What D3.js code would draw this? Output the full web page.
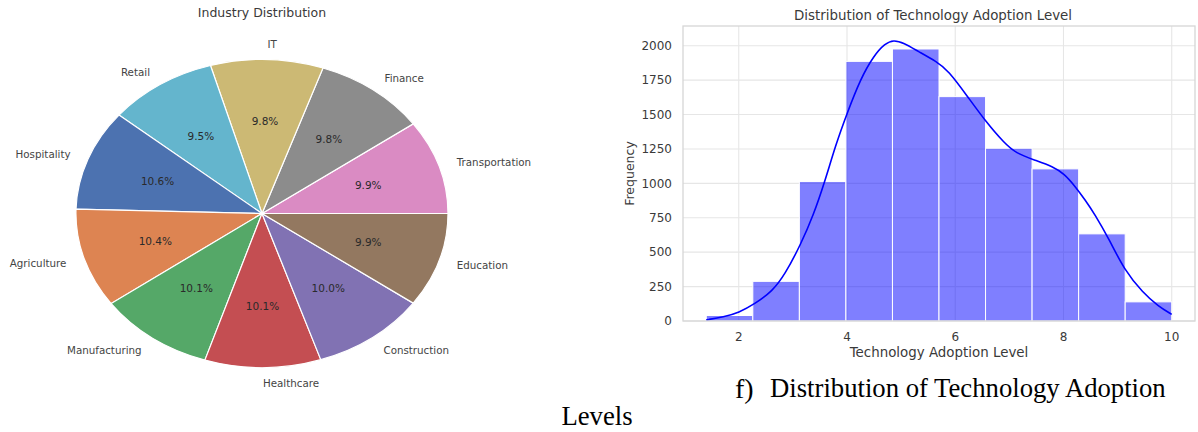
<!DOCTYPE html>
<html>
<head>
<meta charset="utf-8">
<script src="https://cdn.jsdelivr.net/npm/d3@7"></script>
<style>
  html, body { margin: 0; padding: 0; background: #fff; }
  svg { display: block; }
</style>
</head>
<body>
<svg id="chart" width="1198" height="432"></svg>
<script>
// ---------- Pie data (drawn counter-clockwise from 3 o'clock) ----------
const categories = ["Transportation","Finance","IT","Retail","Hospitality","Agriculture","Manufacturing","Healthcare","Construction","Education"];
const shares = [9.9, 9.8, 9.8, 9.5, 10.6, 10.4, 10.1, 10.1, 10.0, 9.9];
const pieColors = ["#DA8BC3","#8C8C8C","#CCB974","#64B5CD","#4C72B0","#DD8452","#55A868","#C44E52","#8172B3","#937860"];

// ---------- Histogram data ----------
const binEdges = [1.4, 2.26, 3.12, 3.98, 4.84, 5.70, 6.56, 7.42, 8.28, 9.14, 10.0];
const binCounts = [40, 288, 1013, 1886, 1976, 1630, 1255, 1105, 633, 139];
const kdeX = [1.4, 1.72, 2.0, 2.3, 2.62, 2.85, 3.15, 3.38, 3.58, 3.8, 4.0, 4.25, 4.5, 4.7, 4.86, 5.05, 5.3, 5.66, 5.87, 6.22, 6.56, 6.91, 7.12, 7.46, 7.81, 8.01, 8.22, 8.4, 8.57, 8.85, 9.12, 9.47, 9.75, 10.0];
const kdeY = [8, 29, 60, 125, 216, 335, 560, 770, 1000, 1290, 1507, 1760, 1930, 2015, 2043, 2020, 1962, 1883, 1820, 1635, 1450, 1291, 1220, 1170, 1121, 1070, 976, 879, 781, 589, 373, 204, 108, 48];
const xTicks = [2, 4, 6, 8, 10];
const yTicks = [0, 250, 500, 750, 1000, 1250, 1500, 1750, 2000];

const svg = d3.select("#chart");
const textCol = "#3a3a3a";

// ================= PIE =================
const cx = 262, cy = 213.5, rx = 186, ry = 154;
const pie = d3.pie().sort(null).value(d => d)
  .startAngle(Math.PI / 2).endAngle(Math.PI / 2 - 2 * Math.PI);
const arcs = pie(shares);
const arcGen = d3.arc().innerRadius(0).outerRadius(1);

svg.append("text")
  .attr("x", cx).attr("y", 17)
  .attr("text-anchor", "middle")
  .attr("font-family", "DejaVu Sans")
  .attr("font-size", 12.5)
  .attr("fill", textCol)
  .text("Industry Distribution");

const pieG = svg.append("g").attr("transform", `translate(${cx},${cy}) scale(${rx},${ry})`);
pieG.selectAll("path").data(arcs).join("path")
  .attr("d", arcGen)
  .attr("fill", (d, i) => pieColors[i])
  .attr("stroke", "#ffffff")
  .attr("stroke-width", 1.2)
  .attr("vector-effect", "non-scaling-stroke");

arcs.forEach((a, i) => {
  const mid = (a.startAngle + a.endAngle) / 2;
  const sx = Math.sin(mid), sy = -Math.cos(mid);
  svg.append("text")
    .attr("x", cx + 1.1 * rx * sx)
    .attr("y", cy + 1.1 * ry * sy)
    .attr("text-anchor", sx >= 0 ? "start" : "end")
    .attr("dominant-baseline", "central")
    .attr("font-family", "DejaVu Sans")
    .attr("font-size", 10.3)
    .attr("fill", "#444")
    .text(categories[i]);
  svg.append("text")
    .attr("x", cx + 0.6 * rx * sx)
    .attr("y", cy + 0.6 * ry * sy)
    .attr("text-anchor", "middle")
    .attr("dominant-baseline", "central")
    .attr("font-family", "DejaVu Sans")
    .attr("font-size", 10.5)
    .attr("fill", "#2a2a2a")
    .text(shares[i].toFixed(1) + "%");
});

// ================= HISTOGRAM =================
const L = 683, R = 1195, T = 26, B = 321;
const x = d3.scaleLinear().domain([0.97, 10.43]).range([L, R]);
const y = d3.scaleLinear().domain([0, 2143]).range([B, T]);

const hg = svg.append("g");
// grid
hg.selectAll("line.gy").data(yTicks).join("line")
  .attr("x1", L).attr("x2", R)
  .attr("y1", d => y(d)).attr("y2", d => y(d))
  .attr("stroke", "#e6e6e6").attr("stroke-width", 1.1);
hg.selectAll("line.gx").data(xTicks).join("line")
  .attr("y1", T).attr("y2", B)
  .attr("x1", d => x(d)).attr("x2", d => x(d))
  .attr("stroke", "#e6e6e6").attr("stroke-width", 1.1);

// bars
hg.selectAll("rect.bar").data(binCounts).join("rect")
  .attr("x", (d, i) => x(binEdges[i]))
  .attr("width", (d, i) => x(binEdges[i + 1]) - x(binEdges[i]))
  .attr("y", d => y(d))
  .attr("height", d => B - y(d))
  .attr("fill", "rgba(0,0,255,0.5)")
  .attr("stroke", "#ffffff")
  .attr("stroke-width", 1);

// kde
const kdePts = kdeX.map((v, i) => [v, kdeY[i]]);
hg.append("path")
  .datum(kdePts)
  .attr("d", d3.line().x(d => x(d[0])).y(d => y(d[1])).curve(d3.curveBasis))
  .attr("fill", "none")
  .attr("stroke", "#0000ff")
  .attr("stroke-width", 1.6);

// frame
hg.append("rect")
  .attr("x", L).attr("y", T).attr("width", R - L).attr("height", B - T)
  .attr("fill", "none").attr("stroke", "#d6d6d6").attr("stroke-width", 1.3);

// tick labels
hg.selectAll("text.yt").data(yTicks).join("text")
  .attr("x", L - 11).attr("y", d => y(d))
  .attr("dy", "0.35em")
  .attr("text-anchor", "end")
  .attr("font-family", "DejaVu Sans").attr("font-size", 12)
  .attr("fill", textCol)
  .text(d => d);
hg.selectAll("text.xt").data(xTicks).join("text")
  .attr("x", d => x(d)).attr("y", 341)
  .attr("text-anchor", "middle")
  .attr("font-family", "DejaVu Sans").attr("font-size", 12)
  .attr("fill", textCol)
  .text(d => d);

// titles / labels
svg.append("text")
  .attr("x", (L + R) / 2 - 6).attr("y", 20)
  .attr("text-anchor", "middle")
  .attr("font-family", "DejaVu Sans").attr("font-size", 13.4)
  .attr("fill", textCol)
  .text("Distribution of Technology Adoption Level");
svg.append("text")
  .attr("x", (L + R) / 2).attr("y", 357)
  .attr("text-anchor", "middle")
  .attr("font-family", "DejaVu Sans").attr("font-size", 13.4)
  .attr("fill", textCol)
  .text("Technology Adoption Level");
svg.append("text")
  .attr("transform", `translate(634,${(T + B) / 2}) rotate(-90)`)
  .attr("text-anchor", "middle")
  .attr("font-family", "DejaVu Sans").attr("font-size", 12.5)
  .attr("fill", textCol)
  .text("Frequency");

// ================= CAPTION =================
svg.append("text")
  .attr("x", 735).attr("y", 398)
  .attr("font-family", "Liberation Serif").attr("font-size", 28)
  .attr("fill", "#000")
  .text("f)");
svg.append("text")
  .attr("x", 770).attr("y", 397)
  .attr("font-family", "Liberation Serif").attr("font-size", 26.7)
  .attr("fill", "#000")
  .text("Distribution of Technology Adoption");
svg.append("text")
  .attr("x", 597).attr("y", 425)
  .attr("text-anchor", "middle")
  .attr("font-family", "Liberation Serif").attr("font-size", 26.7)
  .attr("fill", "#000")
  .text("Levels");
</script>
</body>
</html>
